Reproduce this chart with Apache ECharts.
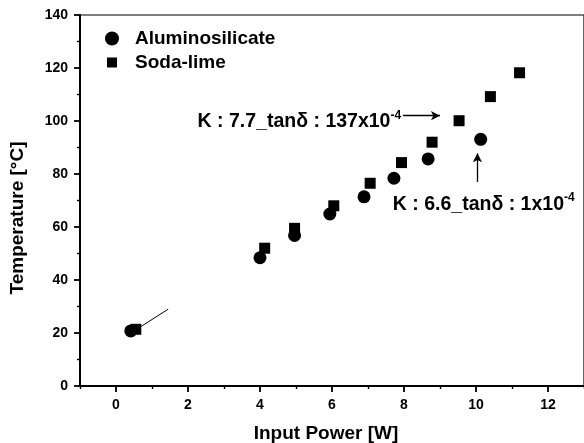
<!DOCTYPE html>
<html><head><meta charset="utf-8">
<script src="https://cdn.jsdelivr.net/npm/echarts@6/dist/echarts.min.js"></script>
<style>html,body{margin:0;padding:0;background:#fff}#c{width:584px;height:443px}</style>
</head><body><div id="c"></div>
<script>
// Data
var aluminoX = [0.41, 4.0, 4.96, 5.94, 6.89, 7.72, 8.67, 10.13];
var aluminoY = [20.8, 48.4, 56.8, 64.9, 71.4, 78.4, 85.7, 93.1];
var sodaX = [0.55, 4.13, 4.96, 6.05, 7.06, 7.93, 8.78, 9.53, 10.4, 11.21];
var sodaY = [21.4, 52.0, 59.5, 68.0, 76.5, 84.3, 92.0, 100.1, 109.2, 118.2];
var fitSegX = [0.7, 1.45];
var fitSegY = [22.5, 29.0];
var seriesNames = ['Aluminosilicate', 'Soda-lime'];
var xMajorTicks = [0, 2, 4, 6, 8, 10, 12];
var xMinorTicks = [-1, 1, 3, 5, 7, 9, 11, 13];
var xTitle = 'Input Power [W]';
var yTitle = 'Temperature [\u00b0C]';
// Annotations (data units)
var arrow1 = [[7.97, 102], [9.0, 102]];
var arrow2 = [[10.04, 77], [10.04, 87.8]];
var note1 = {x: 7.92, y: 100.3, align: 'right', main: 'K : 7.7_tan\u03b4 : 137x10', sup: '-4'};
var note2 = {x: 7.69, y: 69, align: 'left', main: 'K : 6.6_tan\u03b4 : 1x10', sup: '-4'};

function zip(a, b) { return a.map(function (v, i) { return [v, b[i]]; }); }

var chart = echarts.init(document.getElementById('c'));
var FONT = '"Liberation Sans", Arial, sans-serif';
var BLACK = '#000';
var labelStyle = {color: BLACK, fontFamily: FONT, fontWeight: 'bold', fontSize: 14};

var option = {
  animation: false,
  backgroundColor: '#fff',
  grid: {left: 80, right: 0, top: 15, bottom: 57, show: true, borderColor: BLACK, borderWidth: 1.2},
  legend: {
    orient: 'vertical', left: 100, top: 23.5, itemGap: 4, itemWidth: 14, itemHeight: 14,
    textStyle: {color: BLACK, fontFamily: FONT, fontWeight: 'bold', fontSize: 19, lineHeight: 20, padding: [0, 0, 0, 11]},
    data: [
      {name: seriesNames[0], icon: 'circle'},
      {name: seriesNames[1], icon: 'path://M0,0M14,14M2,2L12,2L12,12L2,12Z'}
    ]
  },
  xAxis: [
    {
      type: 'value', min: -1, max: 13, interval: 1,
      axisLine: {show: true, onZero: false, lineStyle: {color: BLACK, width: 2}},
      axisTick: {show: true, length: 6, customValues: xMajorTicks, lineStyle: {color: BLACK, width: 1.8}},
      axisLabel: Object.assign({}, labelStyle, {margin: 12, customValues: xMajorTicks}),
      splitLine: {show: false}
    },
    {
      type: 'value', min: -1, max: 13, interval: 1, position: 'bottom',
      axisLine: {show: false, onZero: false},
      axisTick: {show: true, length: 3, customValues: xMinorTicks, lineStyle: {color: BLACK, width: 1.4}},
      axisLabel: {show: false},
      splitLine: {show: false}
    }
  ],
  yAxis: {
    type: 'value', min: 0, max: 140, interval: 20,
    axisLine: {show: true, onZero: false, lineStyle: {color: BLACK, width: 2}},
    axisTick: {show: true, length: 6, lineStyle: {color: BLACK, width: 1.8}},
    minorTick: {show: true, splitNumber: 2, length: 3, lineStyle: {color: BLACK, width: 1.4}},
    axisLabel: Object.assign({}, labelStyle, {margin: 12}),
    splitLine: {show: false}
  },
  series: [
    {name: seriesNames[0], type: 'scatter', symbol: 'circle', symbolSize: 13,
     itemStyle: {color: BLACK, opacity: 1}, data: zip(aluminoX, aluminoY)},
    {name: seriesNames[1], type: 'scatter', symbol: 'rect', symbolSize: 11,
     itemStyle: {color: BLACK, opacity: 1}, data: zip(sodaX, sodaY),
     markLine: {silent: true, symbol: ['none', 'arrow'], symbolSize: [7, 9],
       lineStyle: {color: BLACK, width: 1.3, type: 'solid'}, label: {show: false},
       data: [
         [{coord: arrow1[0]}, {coord: arrow1[1]}],
         [{coord: arrow2[0]}, {coord: arrow2[1]}]
       ]}},
    {name: 'fit', type: 'line', symbol: 'none', silent: true,
     lineStyle: {color: BLACK, width: 1}, data: zip(fitSegX, fitSegY)}
  ]
};
chart.setOption(option);

function noteGraphic(n) {
  var p = chart.convertToPixel({gridIndex: 0}, [n.x, n.y]);
  return {
    type: 'text', x: p[0], y: p[1], silent: true,
    style: {
      text: '{m|' + n.main + '}{s|' + n.sup + '}',
      align: n.align, verticalAlign: 'middle',
      rich: {
        m: {fontFamily: FONT, fontWeight: 'bold', fontSize: 19.5, fill: BLACK, lineHeight: 22, verticalAlign: 'bottom'},
        s: {fontFamily: FONT, fontWeight: 'bold', fontSize: 12, fill: BLACK, lineHeight: 22, verticalAlign: 'top'}
      }
    }
  };
}
var titleFont = {fontFamily: FONT, fontWeight: 'bold', fontSize: 19, fill: BLACK, align: 'center', verticalAlign: 'middle'};
chart.setOption({graphic: [
  noteGraphic(note1), noteGraphic(note2),
  {type: 'text', x: 326, y: 434, silent: true, style: Object.assign({text: xTitle}, titleFont)},
  {type: 'text', x: 18, y: 218, rotation: Math.PI / 2, silent: true, style: Object.assign({text: yTitle}, titleFont)}
]});
</script></body></html>
